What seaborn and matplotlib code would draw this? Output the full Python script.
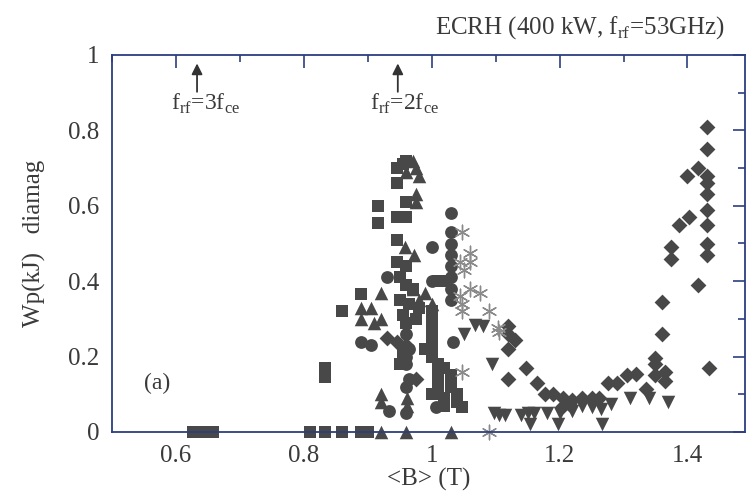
import matplotlib
matplotlib.use("Agg")
import matplotlib.pyplot as plt
import seaborn as sns
from matplotlib.ticker import MultipleLocator, FormatStrFormatter

# data
sq_x = [0.627, 0.643, 0.658, 0.81, 0.833, 0.86, 0.89, 0.90,
        0.833, 0.833, 0.86, 0.89, 0.916, 0.916,
        0.945, 0.945, 0.96, 0.955, 0.945, 0.96, 0.96, 0.945, 0.945, 0.96,
        0.95, 0.96, 0.97, 0.95, 0.965, 0.98, 0.955, 0.975, 0.96, 0.95, 0.955,
        1.0, 1.0, 1.0, 1.0, 0.99, 1.0, 1.01, 1.01, 1.01, 1.02, 1.02, 1.03,
        1.03, 1.04, 1.04, 1.048, 1.0, 1.02, 1.01, 1.02]
sq_y = [0, 0, 0, 0, 0, 0, 0, 0,
        0.17, 0.145, 0.32, 0.365, 0.60, 0.555,
        0.70, 0.66, 0.72, 0.71, 0.57, 0.57, 0.61, 0.51, 0.45, 0.44,
        0.41, 0.39, 0.38, 0.35, 0.34, 0.33, 0.31, 0.30, 0.29, 0.18, 0.21,
        0.32, 0.29, 0.26, 0.23, 0.22, 0.20, 0.18, 0.15, 0.12, 0.09, 0.17, 0.15,
        0.12, 0.10, 0.08, 0.065, 0.10, 0.07, 0.40, 0.40]

tri_x = [0.92, 0.96, 1.03,
         0.97, 0.975, 0.96, 0.98, 0.976, 0.975, 0.958, 0.973,
         0.92, 0.89, 0.905, 0.89, 0.92, 0.91, 0.98, 1.0, 0.99, 0.97,
         0.92, 0.962, 0.92, 0.962]
tri_y = [0, 0, 0,
         0.72, 0.70, 0.69, 0.68, 0.63, 0.61, 0.49, 0.47,
         0.37, 0.33, 0.33, 0.30, 0.30, 0.29, 0.35, 0.34, 0.37, 0.38,
         0.10, 0.09, 0.08, 0.07]

circ_x = [0.93, 0.89, 0.905, 0.96, 0.96, 0.96, 0.934, 0.96, 1.007,
          1.03, 1.03, 1.03, 1.03, 1.03, 1.03, 1.03, 1.03, 1.0, 1.0, 1.033,
          0.965, 0.965, 0.96]
circ_y = [0.41, 0.24, 0.23, 0.26, 0.20, 0.18, 0.055, 0.05, 0.065,
          0.58, 0.53, 0.50, 0.47, 0.44, 0.41, 0.38, 0.35, 0.49, 0.40, 0.24,
          0.22, 0.14, 0.12]

dia_x = [0.93, 0.945, 0.976, 0.96,
         1.12, 1.12, 1.13, 1.12, 1.148, 1.12, 1.165, 1.177, 1.19, 1.205,
         1.22, 1.235, 1.25, 1.262, 1.205, 1.215,
         1.275, 1.29, 1.305, 1.32, 1.335, 1.35, 1.35, 1.35, 1.365, 1.365,
         1.36, 1.36, 1.375, 1.375, 1.387, 1.40, 1.403, 1.416, 1.416,
         1.43, 1.43, 1.43, 1.43, 1.43, 1.43, 1.43, 1.43, 1.43, 1.434]
dia_y = [0.25, 0.24, 0.14, 0.23,
         0.28, 0.26, 0.245, 0.22, 0.17, 0.14, 0.13, 0.10, 0.10, 0.09,
         0.085, 0.09, 0.09, 0.09, 0.07, 0.075,
         0.13, 0.13, 0.15, 0.155, 0.115, 0.195, 0.18, 0.15, 0.16, 0.135,
         0.26, 0.345, 0.49, 0.46, 0.55, 0.68, 0.57, 0.70, 0.39,
         0.81, 0.75, 0.68, 0.66, 0.63, 0.59, 0.55, 0.50, 0.47, 0.17]

dtri_x = [1.067, 1.08, 1.05, 1.095,
          1.097, 1.105, 1.115, 1.14, 1.15, 1.16, 1.18, 1.2, 1.22,
          1.153, 1.197, 1.267,
          1.235, 1.25, 1.265, 1.28, 1.31, 1.34, 1.37]
dtri_y = [0.285, 0.28, 0.26, 0.18,
          0.05, 0.045, 0.045, 0.045, 0.05, 0.05, 0.05, 0.05, 0.055,
          0.02, 0.02, 0.02,
          0.07, 0.065, 0.06, 0.075, 0.09, 0.09, 0.08]

ast_x = [1.047, 1.06, 1.045, 1.06, 1.05, 1.06, 1.075, 1.045, 1.047,
         1.09, 1.047, 1.103, 1.105, 1.048, 1.09]
ast_y = [0.53, 0.475, 0.45, 0.45, 0.43, 0.38, 0.37, 0.36, 0.34,
         0.32, 0.32, 0.275, 0.265, 0.16, 0.0]

sns.set_style("white")
plt.rcParams['font.family'] = ['Liberation Serif', 'DejaVu Serif']
plt.rcParams['mathtext.fontset'] = 'custom'
plt.rcParams['mathtext.rm'] = 'Liberation Serif'

ink = '#484848'
axc = '#2c3e80'
txt = '#3a3a3a'

fig = plt.figure(figsize=(7.49, 4.93), dpi=100)
ax = fig.add_axes([112 / 749, 1 - 432 / 493, (745 - 112) / 749, 377 / 493])

sns.scatterplot(x=sq_x, y=sq_y, marker='s', s=80, color=ink, edgecolor=ink, linewidth=0, ax=ax, clip_on=False)
sns.scatterplot(x=tri_x, y=tri_y, marker='^', s=95, color=ink, edgecolor=ink, linewidth=0, ax=ax, clip_on=False)
sns.scatterplot(x=circ_x, y=circ_y, marker='o', s=85, color=ink, edgecolor=ink, linewidth=0, ax=ax, clip_on=False)
sns.scatterplot(x=dia_x, y=dia_y, marker='D', s=65, color=ink, edgecolor=ink, linewidth=0, ax=ax, clip_on=False)
sns.scatterplot(x=dtri_x, y=dtri_y, marker='v', s=95, color=ink, edgecolor=ink, linewidth=0, ax=ax, clip_on=False)
ax.scatter(ast_x, ast_y, marker=(6, 2, 0), s=110, color='#8a8a8a', linewidth=1.0, clip_on=False)

ax.set_xlim(0.5, 1.49)
ax.set_ylim(0, 1)
ax.xaxis.set_major_locator(MultipleLocator(0.2))
ax.xaxis.set_minor_locator(MultipleLocator(0.1))
ax.yaxis.set_major_locator(MultipleLocator(0.2))
ax.yaxis.set_minor_locator(MultipleLocator(0.1))
ax.xaxis.set_major_formatter(FormatStrFormatter('%g'))
ax.yaxis.set_major_formatter(FormatStrFormatter('%g'))
ax.tick_params(which='both', direction='in', top=True, right=True, color=axc,
               labelcolor=txt, labelsize=18, width=1.2)
ax.tick_params(which='major', length=9, pad=9)
ax.tick_params(which='minor', length=5)
for sp in ax.spines.values():
    sp.set_color(axc)
    sp.set_linewidth(1.3)

ax.set_xlabel('<B> (T)', fontsize=18, color=txt, labelpad=1)
ax.set_ylabel('Wp(kJ)   diamag', fontsize=18, color=txt, labelpad=16)

# resonance arrows
for xr, lab, xt in [(0.633, r'f$_{\rm rf}$=3f$_{\rm ce}$', 0.647),
                    (0.947, r'f$_{\rm rf}$=2f$_{\rm ce}$', 0.958)]:
    ax.annotate('', xy=(xr, 0.985), xytext=(xr, 0.895),
                arrowprops=dict(arrowstyle='-|>', color='#333333', lw=1.3, mutation_scale=16))
    ax.text(xt, 0.87, lab, fontsize=17, color=txt, ha='center', va='center')

ax.text(0.55, 0.13, '(a)', fontsize=17, color=txt, ha='left', va='center')
fig.text(725 / 749, 1 - 28 / 493, r'ECRH (400 kW, f$_{\rm rf}$=53GHz)', fontsize=18,
         color=txt, ha='right', va='center')

fig.savefig('out.png', dpi=100)
